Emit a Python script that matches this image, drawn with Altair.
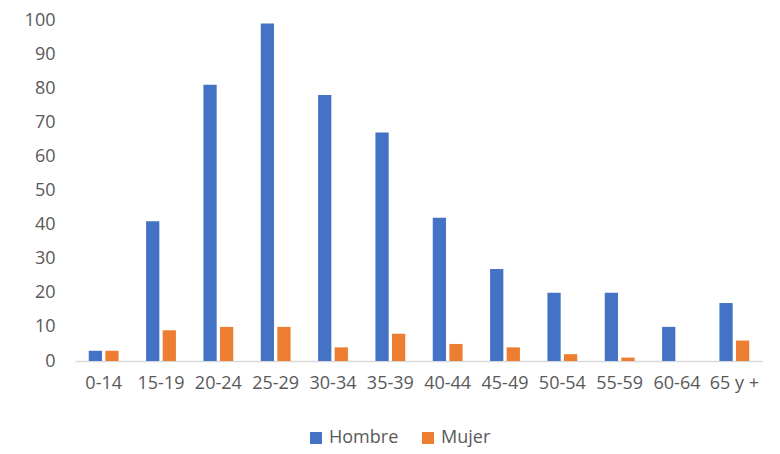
import altair as alt
import pandas as pd

categories = ["0-14", "15-19", "20-24", "25-29", "30-34", "35-39",
              "40-44", "45-49", "50-54", "55-59", "60-64", "65 y +"]
hombre = [3, 41, 81, 99, 78, 67, 42, 27, 20, 20, 10, 17]
mujer = [3, 9, 10, 10, 4, 8, 5, 4, 2, 1, 0, 6]
series = ["Hombre", "Mujer"]
colors = ["#4472C4", "#ED7D31"]
y_ticks = [0, 10, 20, 30, 40, 50, 60, 70, 80, 90, 100]

rows = []
for c, h, m in zip(categories, hombre, mujer):
    rows.append({"grupo": c, "sexo": "Hombre", "valor": h})
    rows.append({"grupo": c, "sexo": "Mujer", "valor": m})
df = pd.DataFrame(rows)

FONT = "Open Sans"
GREY = "#595959"

chart = alt.Chart(df).mark_bar().encode(
    x=alt.X("grupo:N", sort=categories, title=None,
            scale=alt.Scale(paddingInner=0.48, paddingOuter=0.24),
            axis=alt.Axis(labelAngle=0, ticks=False, domain=True,
                          domainColor="#D9D9D9", domainWidth=1.5,
                          labelPadding=13, labelFont=FONT, labelFontSize=18,
                          labelColor=GREY, grid=False)),
    xOffset=alt.XOffset("sexo:N", sort=series,
                        scale=alt.Scale(paddingInner=0.2, paddingOuter=0)),
    y=alt.Y("valor:Q", title=None,
            scale=alt.Scale(domain=[0, 100], nice=False),
            axis=alt.Axis(values=y_ticks, ticks=False, domain=False, grid=False,
                          labelPadding=20, labelFont=FONT, labelFontSize=18,
                          labelColor=GREY)),
    color=alt.Color("sexo:N", sort=series,
                    scale=alt.Scale(domain=series, range=colors),
                    legend=alt.Legend(title=None, orient="none", direction="horizontal",
                                      legendX=232, legendY=409,
                                      symbolType="square", symbolSize=144,
                                      symbolStrokeWidth=0,
                                      labelFont=FONT, labelFontSize=18,
                                      labelColor=GREY, columnPadding=20,
                                      symbolOffset=0, labelOffset=4)),
).properties(
    width=688, height=341,
    autosize=alt.AutoSizeParams(type="none"),
    padding={"left": 67, "top": 12, "right": 0, "bottom": 92},
).configure_view(stroke=None)

chart.save("out.html", embed_options={"renderer": "svg", "actions": False})
